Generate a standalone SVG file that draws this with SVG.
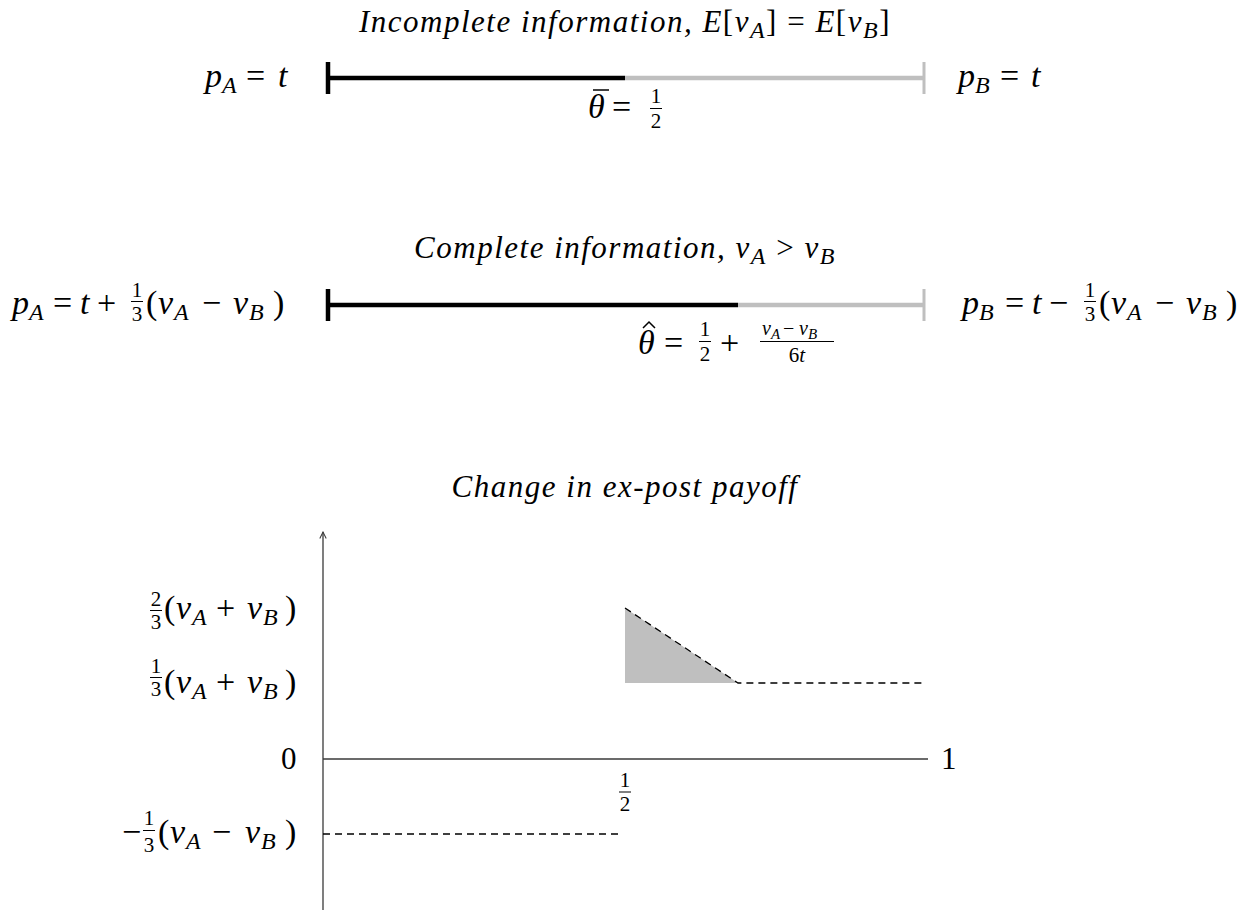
<svg xmlns="http://www.w3.org/2000/svg" width="1251" height="911" viewBox="0 0 1251 911" font-family="'Liberation Serif', 'DejaVu Serif', serif">
<defs>
<style>
text{font-family:'Liberation Serif','DejaVu Serif',serif;fill:#000}
.m{font-size:34px}
.i{font-style:italic}
.n{font-style:normal}
.s{font-size:24px}
.f{font-size:21px}
.t{font-size:31px;font-style:italic;letter-spacing:1.5px}
.blk{stroke:#000;stroke-width:4.5}
.gry{stroke:#bfbfbf;stroke-width:4.5}
.fb{stroke:#000;stroke-width:1}
.acc{stroke:#000;stroke-width:1.5;fill:none}
.ax{stroke:#3a3a3a;stroke-width:1.3;fill:none}
.dash{stroke:#000;stroke-width:1.3;stroke-dasharray:7 5;fill:none}
</style>
<marker id="arr" viewBox="0 0 10 10" refX="9" refY="5" markerWidth="8" markerHeight="8" orient="auto" markerUnits="userSpaceOnUse">
<path d="M1,1 L9,5 L1,9" fill="none" stroke="#3a3a3a" stroke-width="1.3"/>
</marker>
</defs>
<rect width="1251" height="911" fill="#fff"/>

<g id="row1">
<text class="t" x="625" y="32" text-anchor="middle">Incomplete information, E<tspan class="n">[</tspan>v<tspan class="s" dy="6">A</tspan><tspan class="n" dy="-6">] = </tspan>E<tspan class="n">[</tspan>v<tspan class="s" dy="6">B</tspan><tspan class="n" dy="-6">]</tspan></text>
<line x1="326" y1="78" x2="625" y2="78" class="blk"/>
<line x1="625" y1="78" x2="925" y2="78" class="gry"/>
<line x1="328" y1="62" x2="328" y2="94" class="blk"/>
<line x1="924" y1="62" x2="924" y2="94" stroke="#bfbfbf" stroke-width="3"/>
<g id="pA1"><text class="m i"><tspan x="205" y="87">p</tspan><tspan class="s" x="222" y="93">A</tspan><tspan class="n" x="246" y="87">=</tspan><tspan x="278" y="87">t</tspan></text></g>
<g id="pB1"><text class="m i"><tspan x="958" y="87">p</tspan><tspan class="s" x="975" y="93">B</tspan><tspan class="n" x="1000" y="87">=</tspan><tspan x="1031" y="87">t</tspan></text></g>
<g id="thetabar"><text class="m"><tspan class="i" x="588" y="118">θ</tspan><tspan x="612" y="118">=</tspan></text>
<line x1="593" y1="90" x2="609" y2="90" class="acc"/>
<text class="f" text-anchor="middle"><tspan x="656" y="103">1</tspan><tspan x="656" y="128">2</tspan></text>
<line x1="650" y1="108.5" x2="662" y2="108.5" class="fb"/></g>
</g>

<g id="row2">
<text class="t" x="625" y="258" text-anchor="middle">Complete information, v<tspan class="s" dy="6">A</tspan><tspan class="n" dy="-6"> &gt; </tspan>v<tspan class="s" dy="6">B</tspan></text>
<line x1="326" y1="305" x2="738" y2="305" class="blk"/>
<line x1="738" y1="305" x2="925" y2="305" class="gry"/>
<line x1="328" y1="289" x2="328" y2="321" class="blk"/>
<line x1="924" y1="289" x2="924" y2="321" stroke="#bfbfbf" stroke-width="3"/>
<g id="pA2"><text class="m i"><tspan x="12" y="314">p</tspan><tspan class="s" x="29" y="320">A</tspan><tspan class="n" x="53" y="314">=</tspan><tspan x="80" y="314">t</tspan><tspan class="n" x="97" y="314">+</tspan><tspan class="n" x="146" y="314">(</tspan><tspan x="158" y="314">v</tspan><tspan class="s" x="174" y="320">A</tspan><tspan class="n" x="202" y="314">−</tspan><tspan x="233" y="314">v</tspan><tspan class="s" x="249" y="320">B</tspan><tspan class="n" x="273" y="314">)</tspan></text>
<text class="f" text-anchor="middle"><tspan x="137" y="297">1</tspan><tspan x="137" y="321">3</tspan></text>
<line x1="131" y1="301.5" x2="143" y2="301.5" class="fb"/></g>
<g id="pB2"><text class="m i"><tspan x="962" y="314">p</tspan><tspan class="s" x="979" y="320">B</tspan><tspan class="n" x="1005" y="314">=</tspan><tspan x="1032" y="314">t</tspan><tspan class="n" x="1049" y="314">−</tspan><tspan class="n" x="1099" y="314">(</tspan><tspan x="1111" y="314">v</tspan><tspan class="s" x="1127" y="320">A</tspan><tspan class="n" x="1155" y="314">−</tspan><tspan x="1186" y="314">v</tspan><tspan class="s" x="1202" y="320">B</tspan><tspan class="n" x="1226" y="314">)</tspan></text>
<text class="f" text-anchor="middle"><tspan x="1090" y="297">1</tspan><tspan x="1090" y="321">3</tspan></text>
<line x1="1084" y1="301.5" x2="1096" y2="301.5" class="fb"/></g>
<g id="thetahat"><text class="m"><tspan class="i" x="638" y="354">θ</tspan><tspan x="664" y="354">=</tspan><tspan x="720" y="354">+</tspan></text>
<polyline points="643,328 649,322 655,328" class="acc"/>
<text class="f" text-anchor="middle"><tspan x="705" y="336">1</tspan><tspan x="705" y="361">2</tspan></text>
<line x1="699" y1="341.5" x2="711" y2="341.5" class="fb"/>
<text class="i" font-size="20"><tspan x="762" y="335">v</tspan><tspan font-size="15" x="771" y="339">A</tspan><tspan class="n" x="783" y="335">−</tspan><tspan x="799" y="335">v</tspan><tspan font-size="15" x="808" y="339">B</tspan></text>
<text font-size="21" text-anchor="middle"><tspan x="797" y="362">6<tspan class="i">t</tspan></tspan></text>
<line x1="760" y1="341.5" x2="834" y2="341.5" class="fb"/></g>
</g>

<g id="chart">
<text class="t" x="625" y="497" text-anchor="middle">Change in ex-post payoff</text>
<g id="connectors">
<line x1="323" y1="910" x2="323" y2="532" class="ax" marker-end="url(#arr)"/>
<line x1="323" y1="759" x2="928" y2="759" class="ax"/>
<polygon points="625,608 625,683 738,683" fill="#bfbfbf"/>
<polyline points="625,608 738,683 925,683" class="dash"/>
<line x1="323" y1="834" x2="620" y2="834" class="dash"/>
</g>
<g id="lab23"><text class="m i"><tspan class="n" x="164" y="619">(</tspan><tspan x="176" y="619">v</tspan><tspan class="s" x="192" y="625">A</tspan><tspan class="n" x="216" y="619">+</tspan><tspan x="247" y="619">v</tspan><tspan class="s" x="263" y="625">B</tspan><tspan class="n" x="285" y="619">)</tspan></text>
<text class="f" text-anchor="middle"><tspan x="156" y="606">2</tspan><tspan x="156" y="629">3</tspan></text>
<line x1="150" y1="610.5" x2="162" y2="610.5" class="fb"/></g>
<g id="lab13"><text class="m i"><tspan class="n" x="164" y="693">(</tspan><tspan x="176" y="693">v</tspan><tspan class="s" x="192" y="699">A</tspan><tspan class="n" x="216" y="693">+</tspan><tspan x="247" y="693">v</tspan><tspan class="s" x="263" y="699">B</tspan><tspan class="n" x="285" y="693">)</tspan></text>
<text class="f" text-anchor="middle"><tspan x="156" y="673">1</tspan><tspan x="156" y="696">3</tspan></text>
<line x1="150" y1="677.5" x2="162" y2="677.5" class="fb"/></g>
<g id="lab0"><text font-size="31" x="281" y="769">0</text></g>
<g id="lab1"><text font-size="31" x="941" y="769">1</text></g>
<g id="labhalf"><text class="f" text-anchor="middle"><tspan x="625" y="787">1</tspan><tspan x="625" y="811">2</tspan></text>
<line x1="619" y1="792" x2="631" y2="792" class="fb"/></g>
<g id="labneg"><text class="m i"><tspan class="n" x="122" y="843">−</tspan><tspan class="n" x="158" y="843">(</tspan><tspan x="170" y="843">v</tspan><tspan class="s" x="186" y="849">A</tspan><tspan class="n" x="212" y="843">−</tspan><tspan x="245" y="843">v</tspan><tspan class="s" x="261" y="849">B</tspan><tspan class="n" x="285" y="843">)</tspan></text>
<text class="f" text-anchor="middle"><tspan x="149" y="825">1</tspan><tspan x="149" y="852">3</tspan></text>
<line x1="143" y1="830.5" x2="155" y2="830.5" class="fb"/></g>
</g>
</svg>
